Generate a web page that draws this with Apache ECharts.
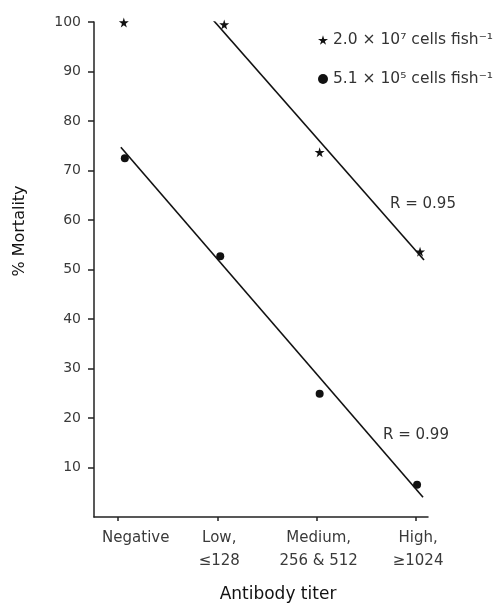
<!DOCTYPE html>
<html>
<head>
<meta charset="utf-8">
<script src="https://cdn.jsdelivr.net/npm/echarts@6/dist/echarts.min.js"></script>
<style>
  html, body { margin: 0; padding: 0; background: #fff; }
  #main { width: 495px; height: 605px; }
</style>
</head>
<body>
<div id="main"></div>
<script>
// categories on the x axis (positions 0..3)
var titerLabels = ['Negative\n', 'Low,\n\u2264128', 'Medium,\n256 & 512', 'High,\n\u22651024'];
var titerTicks = [0, 1, 2, 3];
var yTicks = [10, 20, 30, 40, 50, 60, 70, 80, 90, 100];

// measured points (x is the plotted position, a bit right of each tick)
var highDoseX = [0.06, 1.07, 2.03, 3.04];
var highDoseY = [99.9, 99.5, 73.7, 53.6];
var lowDoseX = [0.07, 1.03, 2.03, 3.01];
var lowDoseY = [72.5, 52.7, 24.9, 6.5];

// regression lines, endpoints
var highFitX = [0.95, 3.08];
var highFitY = [100.6, 51.9];
var lowFitX = [0.03, 3.07];
var lowFitY = [74.7, 4.0];

var highName = '2.0 \u00d7 10\u2077 cells fish\u207b\u00b9';
var lowName = '5.1 \u00d7 10\u2075 cells fish\u207b\u00b9';

var starPath = 'path://M50,0 L61,35 L98,35 L68,57 L79,91 L50,70 L21,91 L32,57 L2,35 L39,35 Z';
var font = 'DejaVu Sans';

function pairs(xs, ys) {
    var out = [];
    for (var i = 0; i < xs.length; i++) {
        out.push([xs[i], ys[i]]);
    }
    return out;
}

var myChart = echarts.init(document.getElementById('main'));
var option = {
    animation: false,
    backgroundColor: '#fff',
    grid: { left: 94, right: 67, top: 22, bottom: 88 },
    legend: {
        orient: 'vertical',
        left: 313,
        top: 26,
        itemWidth: 10,
        itemHeight: 10,
        itemGap: 21,
        data: [
            { name: highName, icon: starPath },
            { name: lowName, icon: 'circle' }
        ],
        textStyle: { fontFamily: font, fontSize: 15.5, color: '#333', lineHeight: 18 }
    },
    xAxis: {
        type: 'value',
        min: -0.24,
        max: 3.12,
        splitLine: { show: false },
        axisLine: { onZero: false, lineStyle: { color: '#222', width: 1.5 } },
        axisTick: {
            show: true,
            customValues: titerTicks,
            length: 4,
            inside: false,
            lineStyle: { color: '#222', width: 1.5 }
        },
        axisLabel: {
            customValues: [0.18, 1.02, 2.02, 3.02],
            formatter: function (v) {
                return titerLabels[Math.round(v)];
            },
            margin: 10,
            lineHeight: 23,
            fontFamily: font,
            fontSize: 15,
            color: '#3a3a3a'
        }
    },
    yAxis: {
        type: 'value',
        min: 0,
        max: 100,
        interval: 10,
        splitLine: { show: false },
        axisLine: { show: true, onZero: false, lineStyle: { color: '#222', width: 1.5 } },
        axisTick: { show: true, customValues: yTicks, length: 6, lineStyle: { color: '#222', width: 1.5 } },
        axisLabel: {
            customValues: yTicks,
            margin: 13,
            fontFamily: font,
            fontSize: 14,
            color: '#3a3a3a'
        }
    },
    graphic: [
        {
            type: 'text',
            x: 20, y: 231,
            rotation: Math.PI / 2,
            style: {
                text: '% Mortality',
                fontFamily: font, fontSize: 16, fill: '#111',
                align: 'center', verticalAlign: 'middle'
            }
        },
        {
            type: 'text',
            x: 278, y: 595,
            style: {
                text: 'Antibody titer',
                fontFamily: font, fontSize: 17, fill: '#111',
                align: 'center', verticalAlign: 'middle'
            }
        },
        {
            type: 'text',
            x: 390, y: 204,
            style: {
                text: 'R = 0.95',
                fontFamily: font, fontSize: 15, fill: '#333',
                align: 'left', verticalAlign: 'middle'
            }
        },
        {
            type: 'text',
            x: 383, y: 435,
            style: {
                text: 'R = 0.99',
                fontFamily: font, fontSize: 15, fill: '#333',
                align: 'left', verticalAlign: 'middle'
            }
        }
    ],
    series: [
        {
            name: 'fitHigh',
            type: 'line',
            data: pairs(highFitX, highFitY),
            symbol: 'none',
            lineStyle: { color: '#111', width: 1.6 },
            z: 2
        },
        {
            name: 'fitLow',
            type: 'line',
            data: pairs(lowFitX, lowFitY),
            symbol: 'none',
            lineStyle: { color: '#111', width: 1.6 },
            z: 2
        },
        {
            name: highName,
            type: 'scatter',
            data: pairs(highDoseX, highDoseY),
            symbol: starPath,
            symbolSize: 10,
            itemStyle: { color: '#111', opacity: 1 },
            z: 3
        },
        {
            name: lowName,
            type: 'scatter',
            data: pairs(lowDoseX, lowDoseY),
            symbol: 'circle',
            symbolSize: 8,
            itemStyle: { color: '#111', opacity: 1 },
            z: 3
        }
    ]
};
myChart.setOption(option);
</script>
</body>
</html>
